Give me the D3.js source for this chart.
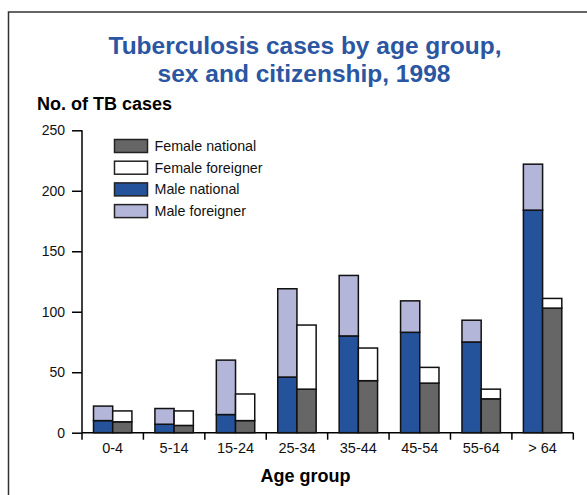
<!DOCTYPE html>
<html>
<head>
<meta charset="utf-8">
<script src="https://cdn.jsdelivr.net/npm/d3@7"></script>
<style>
    body { margin: 0; background: #fff; }
    svg { display: block; font-family: "Liberation Sans", Arial, sans-serif; }
</style>
</head>
<body>
<div id="chart"></div>
<script>

// age groups on the x axis
const ageGroups = ['0-4', '5-14', '15-24', '25-34', '35-44', '45-54', '55-64', '> 64'];

// stacked values
const maleNational = [10, 7, 15, 46, 80, 83, 75, 184];
const maleForeigner = [12, 13, 45, 73, 50, 26, 18, 38];
const femaleNational = [9, 6, 10, 36, 43, 41, 28, 103];
const femaleForeigner = [9, 12, 22, 53, 27, 13, 8, 8];

const yTicks = [0, 50, 100, 150, 200, 250];

const legendItems = ['Female national', 'Female foreigner', 'Male national', 'Male foreigner'];
const legendColors = ['#666666', '#ffffff', '#24529b', '#b3b6d9'];


const width = 587, height = 495;

var svg = d3.select('#chart').append('svg')
    .attr('width', width)
    .attr('height', height);

// frame around the figure
svg.append('rect')
    .attr('x', 8.5)
    .attr('y', 12)
    .attr('width', 620)
    .attr('height', 520)
    .attr('fill', 'none')
    .attr('stroke', '#333')
    .attr('stroke-width', 1.5);

// title
svg.append('text')
    .attr('x', 305)
    .attr('y', 54)
    .attr('text-anchor', 'middle')
    .attr('font-size', 24.5)
    .attr('font-weight', 'bold')
    .attr('fill', '#2a56a2')
    .text('Tuberculosis cases by age group,');

svg.append('text')
    .attr('x', 304)
    .attr('y', 82)
    .attr('text-anchor', 'middle')
    .attr('font-size', 24.5)
    .attr('font-weight', 'bold')
    .attr('fill', '#2a56a2')
    .text('sex and citizenship, 1998');

svg.append('text')
    .attr('x', 37)
    .attr('y', 110)
    .attr('font-size', 18)
    .attr('font-weight', 'bold')
    .attr('fill', '#000')
    .text('No. of TB cases');


const x = d3.scaleBand()
    .domain(ageGroups)
    .range([82, 573.3])
    .padding(0);

const sub = d3.scaleBand()
    .domain(['male', 'female'])
    .range([11.5, x.bandwidth() - 11.5])
    .padding(0);

const y = d3.scaleLinear()
    .domain([0, 250])
    .range([432.7, 130.3]);


// y axis
var yAxis = svg.append('g')
    .attr('transform', 'translate(82,0)')
    .call(d3.axisLeft(y).tickValues(yTicks).tickSize(10).tickPadding(7));

yAxis.select('.domain').remove();
yAxis.append('line')
    .attr('x1', 0).attr('x2', 0)
    .attr('y1', y(250)).attr('y2', y(0) + 7)
    .attr('stroke', '#000')
    .attr('stroke-width', 1.5);

yAxis.selectAll('.tick line').attr('stroke-width', 1.5);
yAxis.selectAll('.tick text')
    .attr('font-size', 14)
    .attr('font-family', '"Liberation Sans", Arial, sans-serif')
    .attr('fill', '#111');


// x axis: ticks sit at the group boundaries
var xAxis = svg.append('g')
    .attr('transform', 'translate(0,' + y(0) + ')');

xAxis.append('line')
    .attr('x1', 82).attr('x2', 573.3)
    .attr('stroke', '#000')
    .attr('stroke-width', 1.5);

xAxis.selectAll('.xtick')
    .data(ageGroups)
    .enter()
    .append('line')
    .attr('class', 'xtick')
    .attr('x1', d => x(d) + x.bandwidth())
    .attr('x2', d => x(d) + x.bandwidth())
    .attr('y1', 0)
    .attr('y2', 7)
    .attr('stroke', '#000')
    .attr('stroke-width', 1.5);

xAxis.selectAll('.xlabel')
    .data(ageGroups)
    .enter()
    .append('text')
    .attr('class', 'xlabel')
    .attr('x', d => x(d) + x.bandwidth() / 2)
    .attr('y', 20.5)
    .attr('text-anchor', 'middle')
    .attr('font-size', 14.5)
    .attr('fill', '#111')
    .text(d => d);

svg.append('text')
    .attr('x', 305.5)
    .attr('y', 482)
    .attr('text-anchor', 'middle')
    .attr('font-size', 18)
    .attr('font-weight', 'bold')
    .text('Age group');


// bars
const rows = ageGroups.map(function (g, i) {
    return {
        group: g,
        male: [
            { y0: 0, y1: maleNational[i], color: legendColors[2] },
            { y0: maleNational[i], y1: maleNational[i] + maleForeigner[i], color: legendColors[3] }
        ],
        female: [
            { y0: 0, y1: femaleNational[i], color: legendColors[0] },
            { y0: femaleNational[i], y1: femaleNational[i] + femaleForeigner[i], color: legendColors[1] }
        ]
    };
});

var groups = svg.selectAll('.ageGroup')
    .data(rows)
    .enter()
    .append('g')
    .attr('class', 'ageGroup')
    .attr('transform', d => 'translate(' + x(d.group) + ',0)');

['male', 'female'].forEach(function (sex) {
    groups.selectAll('.bar-' + sex)
        .data(d => d[sex])
        .enter()
        .append('rect')
        .attr('class', 'bar-' + sex)
        .attr('x', sub(sex))
        .attr('width', sub.bandwidth())
        .attr('y', d => y(d.y1))
        .attr('height', d => y(d.y0) - y(d.y1))
        .attr('fill', d => d.color)
        .attr('stroke', '#111')
        .attr('stroke-width', 1.5);
});


// legend
var legend = svg.append('g')
    .attr('transform', 'translate(114.5,139.5)');

var item = legend.selectAll('.legendItem')
    .data(legendItems)
    .enter()
    .append('g')
    .attr('class', 'legendItem')
    .attr('transform', (d, i) => 'translate(0,' + (i * 21.7) + ')');

item.append('rect')
    .attr('width', 33)
    .attr('height', 13)
    .attr('fill', (d, i) => legendColors[i])
    .attr('stroke', '#222')
    .attr('stroke-width', 1.5);

item.append('text')
    .attr('x', 40)
    .attr('y', 11.5)
    .attr('font-size', 14.3)
    .attr('fill', '#111')
    .text(d => d);

</script>
</body>
</html>
